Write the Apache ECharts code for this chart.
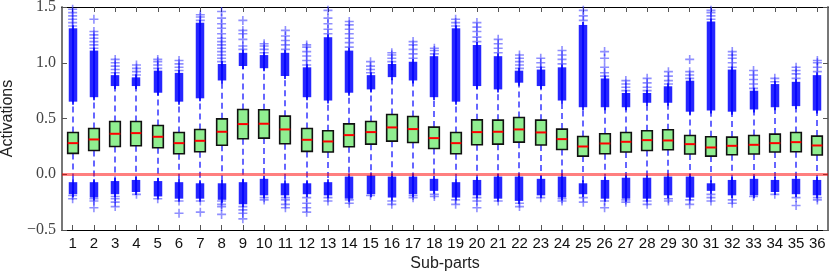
<!DOCTYPE html>
<html>
<head>
<meta charset="utf-8">
<script src="https://cdn.jsdelivr.net/npm/echarts@6/dist/echarts.min.js"></script>
<style>
html,body{margin:0;padding:0;background:#fff;}
#chart{width:830px;height:274px;}
</style>
</head>
<body>
<div id="chart"></div>
<script>
const categories = ['1','2','3','4','5','6','7','8','9','10','11','12','13','14','15','16','17','18','19','20','21','22','23','24','25','26','27','28','29','30','31','32','33','34','35','36'];
const yTicks = [-0.5, 0.0, 0.5, 1.0, 1.5];

const q1 = [0.187,0.213,0.249,0.255,0.237,0.184,0.202,0.260,0.318,0.324,0.273,0.205,0.199,0.246,0.270,0.297,0.285,0.231,0.184,0.264,0.270,0.288,0.262,0.222,0.163,0.184,0.199,0.213,0.220,0.181,0.163,0.175,0.181,0.199,0.202,0.172];
const median = [0.279,0.312,0.363,0.369,0.336,0.279,0.300,0.381,0.450,0.453,0.402,0.309,0.294,0.351,0.378,0.420,0.405,0.324,0.279,0.378,0.381,0.402,0.375,0.315,0.249,0.276,0.291,0.306,0.303,0.270,0.240,0.255,0.264,0.279,0.288,0.258];
const q3 = [0.375,0.410,0.473,0.473,0.437,0.375,0.401,0.497,0.581,0.578,0.521,0.410,0.390,0.452,0.473,0.536,0.518,0.423,0.375,0.488,0.485,0.509,0.485,0.405,0.339,0.363,0.375,0.390,0.399,0.348,0.336,0.333,0.348,0.360,0.375,0.342];
const whiskerHi = [0.66,0.70,0.80,0.80,0.74,0.66,0.69,0.85,0.98,0.96,0.89,0.70,0.67,0.74,0.77,0.88,0.85,0.70,0.66,0.80,0.77,0.83,0.80,0.67,0.61,0.61,0.61,0.65,0.65,0.57,0.58,0.57,0.59,0.61,0.62,0.58];
const whiskerLo = [-0.08,-0.08,-0.07,-0.06,-0.07,-0.08,-0.09,-0.09,-0.08,-0.05,-0.09,-0.09,-0.08,-0.03,-0.02,-0.03,-0.03,-0.05,-0.08,-0.06,-0.03,-0.03,-0.05,-0.03,-0.09,-0.06,-0.04,-0.04,-0.03,-0.03,-0.09,-0.06,-0.05,-0.06,-0.05,-0.06];

// dense outlier clusters (solid column): upper from whiskerHi to upperDenseTop, lower from whiskerLo to lowerDenseBottom
const upperDenseTop = [1.30,1.10,0.88,0.86,0.92,0.90,1.35,0.98,1.08,1.06,1.08,0.95,1.22,1.10,0.88,0.98,1.00,1.05,1.30,1.15,1.05,0.92,0.93,0.95,1.33,0.85,0.72,0.72,0.78,0.83,1.36,0.93,0.74,0.80,0.82,0.88];
const lowerDenseBottom = [-0.17,-0.20,-0.17,-0.15,-0.19,-0.21,-0.21,-0.22,-0.26,-0.18,-0.18,-0.17,-0.18,-0.21,-0.17,-0.20,-0.17,-0.14,-0.20,-0.18,-0.21,-0.23,-0.18,-0.20,-0.17,-0.21,-0.21,-0.21,-0.18,-0.20,-0.14,-0.18,-0.18,-0.15,-0.17,-0.18];

// individually visible outliers
const upperSparse = [
  [1.33,1.36,1.39,1.42,1.45,1.48],
  [1.13,1.16,1.19,1.22,1.25,1.28,1.39],
  [0.91,0.94,0.97,1.00,1.03],
  [0.89,0.92,0.95,0.98],
  [0.95,0.98,1.01,1.03],
  [0.93,0.96,0.99,1.02],
  [1.38,1.41,1.43],
  [1.01,1.04,1.07,1.10,1.13,1.16,1.19,1.22,1.26,1.31,1.35,1.40,1.46],
  [1.12,1.15,1.21,1.26,1.29,1.38],
  [1.09,1.12,1.15,1.17],
  [1.12,1.16,1.20,1.24,1.29],
  [0.98,1.02,1.06,1.10,1.14,1.16],
  [1.26,1.30,1.35,1.40,1.47],
  [1.14,1.18,1.22,1.26,1.30,1.34,1.37],
  [0.91,0.94,0.97,1.01],
  [1.01,1.04,1.07,1.09],
  [1.04,1.08,1.12,1.16,1.19],
  [1.08,1.11,1.13],
  [1.33,1.36,1.39],
  [1.19,1.23,1.28,1.32,1.36],
  [1.09,1.13,1.17,1.21],
  [0.95,0.98,1.01,1.04,1.07],
  [0.96,1.00,1.04],
  [0.99,1.03,1.07,1.11],
  [1.38,1.42,1.47],
  [0.88,0.91,0.96,1.04,1.10],
  [0.75,0.78,0.81,0.84],
  [0.75,0.78,0.82,0.86],
  [0.81,0.84,0.88,0.92],
  [0.86,0.89,0.92,1.03],
  [1.39,1.42,1.45,1.47],
  [0.96,1.00,1.04,1.07,1.10],
  [0.77,0.81,0.85,0.89,0.93],
  [0.83,0.86],
  [0.86,0.90,0.93,0.96],
  [0.92,0.96,1.00,1.02]
];
const lowerSparse = [
  [-0.19,-0.22],
  [-0.22,-0.24,-0.30],
  [-0.20,-0.22,-0.25,-0.29],
  [-0.18],
  [-0.22],
  [-0.24,-0.35],
  [-0.24,-0.34],
  [-0.24,-0.27,-0.29,-0.36],
  [-0.29,-0.32,-0.35,-0.40],
  [-0.21,-0.23],
  [-0.21,-0.23,-0.27,-0.30],
  [-0.21,-0.26,-0.30,-0.34],
  [-0.21,-0.24],
  [-0.23,-0.26],
  [-0.19],
  [-0.24,-0.27],
  [-0.19,-0.21],
  [-0.18,-0.20],
  [-0.23,-0.27],
  [-0.21,-0.24,-0.30],
  [-0.24],
  [-0.26,-0.29],
  [-0.21],
  [-0.22,-0.24],
  [-0.21,-0.25],
  [-0.24,-0.30],
  [-0.23,-0.25],
  [-0.24,-0.27],
  [-0.22,-0.24],
  [-0.23,-0.27],
  [-0.18,-0.21,-0.24],
  [-0.23,-0.26],
  [-0.20],
  [-0.18],
  [-0.21,-0.28],
  [-0.21,-0.23]
];

const boxData = categories.map((c, i) => [i, whiskerLo[i], q1[i], median[i], q3[i], whiskerHi[i]]);
const denseData = categories.map((c, i) => [i, whiskerHi[i], upperDenseTop[i]])
  .concat(categories.map((c, i) => [i, lowerDenseBottom[i], whiskerLo[i]]));
const sparseData = [];
upperSparse.forEach((arr, i) => arr.forEach(v => sparseData.push([i, v])));
lowerSparse.forEach((arr, i) => arr.forEach(v => sparseData.push([i, v])));

const BLUE_WHISKER = 'rgba(0,0,255,0.6)';

function renderBox(params, api) {
  const i = api.value(0);
  const band = api.size([1, 0])[0];
  const bw = band * 0.5;
  const pLo = api.coord([i, api.value(1)]);
  const pQ1 = api.coord([i, api.value(2)]);
  const pMed = api.coord([i, api.value(3)]);
  const pQ3 = api.coord([i, api.value(4)]);
  const pHi = api.coord([i, api.value(5)]);
  const x = Math.round(pQ1[0]);
  return {
    type: 'group',
    children: [
      { type: 'line', shape: { x1: x, y1: pQ1[1], x2: x, y2: pLo[1] },
        style: { stroke: BLUE_WHISKER, lineWidth: 2, lineDash: [6, 4] } },
      { type: 'line', shape: { x1: x, y1: pQ3[1], x2: x, y2: pHi[1] },
        style: { stroke: BLUE_WHISKER, lineWidth: 2, lineDash: [6, 4] } },
      { type: 'rect', shape: { x: x - bw / 2, y: pQ3[1], width: bw, height: pQ1[1] - pQ3[1] },
        style: { fill: '#90ee90', stroke: '#111', lineWidth: 1.6 } },
      { type: 'line', shape: { x1: x - bw / 2, y1: pMed[1], x2: x + bw / 2, y2: pMed[1] },
        style: { stroke: '#ff0000', lineWidth: 2 } }
    ]
  };
}

function renderDense(params, api) {
  const i = api.value(0);
  const a = api.coord([i, api.value(1)]);
  const b = api.coord([i, api.value(2)]);
  const x = Math.round(a[0]);
  const w = 8.5;
  const top = Math.min(a[1], b[1]) - 1;
  const h = Math.abs(a[1] - b[1]) + 2;
  return {
    type: 'group',
    children: [
      { type: 'rect', shape: { x: x - w / 2, y: top, width: w, height: h },
        style: { fill: 'rgba(0,0,255,0.85)' } },
      { type: 'rect', shape: { x: x - 1, y: top - 3, width: 2, height: h + 6 },
        style: { fill: 'rgba(0,0,255,0.8)' } }
    ]
  };
}

const plusPath = 'path://M0,4.1L10,4.1L10,5.9L0,5.9Z M4.1,0L5.9,0L5.9,10L4.1,10Z';

const chart = echarts.init(document.getElementById('chart'), null, { renderer: 'canvas' });
chart.setOption({
  animation: false,
  backgroundColor: '#ffffff',
  grid: { left: 62, right: 2, top: 7, bottom: 44, containLabel: false, outerBoundsMode: 'none' },
  xAxis: [
    {
      type: 'category', data: categories, boundaryGap: true, position: 'bottom',
      name: 'Sub-parts', nameLocation: 'middle', nameGap: 26,
      nameTextStyle: { fontFamily: 'Liberation Sans', fontSize: 16, color: '#222' },
      axisLine: { show: true, onZero: false, lineStyle: { color: '#000', width: 1 } },
      axisTick: { show: true, inside: true, alignWithLabel: true, interval: 0, length: 5, lineStyle: { color: '#555' } },
      axisLabel: { interval: 0, margin: 6, fontFamily: 'Liberation Sans', fontSize: 15, color: '#111' },
      splitLine: { show: false }
    },
    {
      type: 'category', data: categories, boundaryGap: true, position: 'top',
      axisLine: { show: true, onZero: false, lineStyle: { color: '#000', width: 1 } },
      axisTick: { show: true, inside: true, alignWithLabel: true, interval: 0, length: 5, lineStyle: { color: '#555' } },
      axisLabel: { show: false },
      splitLine: { show: false }
    }
  ],
  yAxis: [
    {
      type: 'value', min: -0.5, max: 1.5, interval: 0.5, position: 'left',
      name: 'Activations', nameLocation: 'middle', nameGap: 46, nameRotate: 90,
      nameTextStyle: { fontFamily: 'Liberation Sans', fontSize: 16, color: '#222' },
      axisLine: { show: true, lineStyle: { color: '#777', width: 2 } },
      axisTick: { show: true, inside: true, length: 5, lineStyle: { color: '#555' } },
      axisLabel: {
        margin: 6, fontFamily: 'Liberation Serif', fontSize: 16, color: '#444',
        formatter: v => (v < 0 ? '\u2212' : '') + Math.abs(v).toFixed(1)
      },
      splitLine: { show: false }
    },
    {
      type: 'value', min: -0.5, max: 1.5, interval: 0.5, position: 'right',
      axisLine: { show: true, lineStyle: { color: '#777', width: 2 } },
      axisTick: { show: true, inside: true, length: 5, lineStyle: { color: '#555' } },
      axisLabel: { show: false },
      splitLine: { show: false }
    }
  ],
  series: [
    {
      type: 'custom', name: 'box', renderItem: renderBox, data: boxData,
      encode: { x: 0, y: [1, 2, 3, 4, 5] }, clip: true, z: 2
    },
    {
      type: 'custom', name: 'dense', renderItem: renderDense, data: denseData,
      encode: { x: 0, y: [1, 2] }, clip: true, z: 3
    },
    {
      type: 'scatter', name: 'outliers', data: sparseData, symbol: plusPath, symbolSize: 9,
      itemStyle: { color: 'rgba(0,0,255,0.55)' }, clip: true, z: 4,
      markLine: {
        silent: true, symbol: ['none', 'none'], label: { show: false },
        lineStyle: { color: 'rgba(255,0,0,0.5)', width: 3, type: 'solid' },
        emphasis: { disabled: true },
        data: [{ yAxis: 0 }]
      }
    }
  ]
});
</script>
</body>
</html>
